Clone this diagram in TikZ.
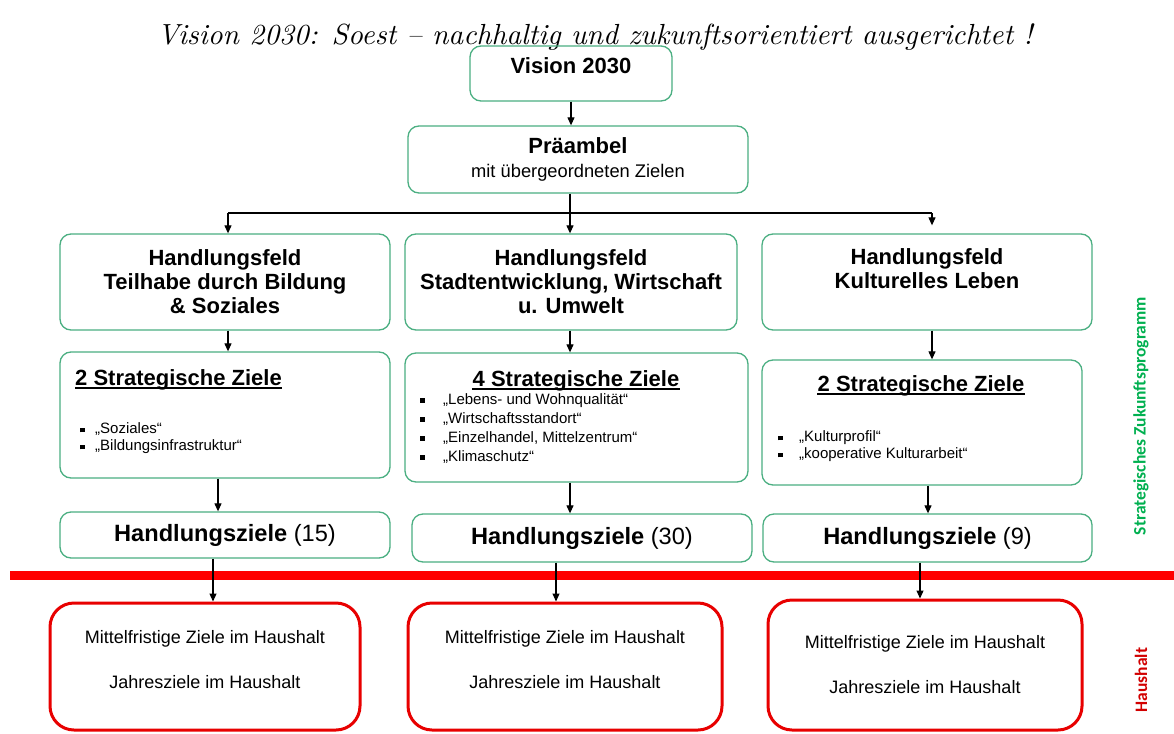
\documentclass[tikz,border=0pt]{standalone}
\usepackage{fontspec}
\usepackage{graphicx}
\setsansfont{Liberation Sans}
\newfontfamily\seitenfont{Carlito}
\usetikzlibrary{arrows.meta,positioning}
\definecolor{rahmengruen}{RGB}{75,175,130}
\definecolor{textgruen}{RGB}{0,176,80}
\definecolor{rahmenrot}{RGB}{232,0,0}
\definecolor{textrot}{RGB}{210,0,0}
% kleines Quadrat als Aufzaehlungszeichen
\newcommand{\qp}[1]{\makebox[#1][l]{\rule[0.2ex]{4.5pt}{4.5pt}}}
\tikzset{
	gruenbox/.style={draw=rahmengruen, line width=1.3pt, rounded corners=11pt, align=center, inner sep=0pt,
		font=\sffamily\bfseries\fontsize{22}{24}\selectfont},
	zielbox/.style={gruenbox, font=\sffamily\fontsize{23.6}{26}\selectfont},
	rotbox/.style={draw=rahmenrot, line width=3pt, rounded corners=24pt, align=center, inner sep=0pt,
		font=\sffamily\fontsize{18}{45}\selectfont},
	kopf/.style={inner sep=0pt, font=\sffamily\bfseries\fontsize{22}{24}\selectfont},
	strich/.style={line width=1.8pt},
	punkte/.style={inner sep=0pt, align=left, font=\sffamily\fontsize{15}{17}\selectfont},
	seite/.style={inner sep=0pt, rotate=90, font=\seitenfont\bfseries\fontsize{17.5}{20}\selectfont},
	pfeil/.style={-{Triangle[length=8pt,width=7pt]}, line width=1.1pt}
}
\begin{document}
\begin{tikzpicture}[x=1pt,y=-1pt]
\useasboundingbox[fill=white] (0,0) rectangle (1174,733);
% Titel
\node[inner sep=0pt] (titel) at (595,37) {\resizebox{875pt}{!}{\itshape Vision 2030: Soest – nachhaltig und zukunftsorientiert ausgerichtet !}};
% obere Ebene
\node[gruenbox, minimum width=202, minimum height=55, text depth=15pt] (vision) at (571,73.5) {Vision 2030};
\node[gruenbox, minimum width=340, minimum height=67, font=\sffamily\fontsize{18.3}{23.5}\selectfont] (praeambel) at (578,159.5)
	{{\bfseries\fontsize{22}{23.5}\selectfont Präambel}\\mit übergeordneten Zielen};
% Handlungsfelder
\node[gruenbox, minimum width=330, minimum height=96] (hf1) at (225,282) {Handlungsfeld\\Teilhabe durch Bildung\\\& Soziales};
\node[gruenbox, minimum width=332, minimum height=96] (hf2) at (571,282) {Handlungsfeld\\Stadtentwicklung, Wirtschaft\\u. Umwelt};
\node[gruenbox, minimum width=330, minimum height=96, text depth=27pt] (hf3) at (927,282) {Handlungsfeld\\Kulturelles Leben};
% strategische Ziele
\node[gruenbox, minimum width=330, minimum height=126] (sz1) at (225,415) {};
\node[gruenbox, minimum width=343, minimum height=129] (sz2) at (576.5,417.5) {};
\node[gruenbox, minimum width=320, minimum height=125] (sz3) at (922,422.5) {};
\node[kopf, anchor=base west] (kopf1) at (75,385) {2 Strategische Ziele};
\node[kopf, anchor=base] (kopf2) at (576,386) {4 Strategische Ziele};
\node[kopf, anchor=base] (kopf3) at (921,391) {2 Strategische Ziele};
\draw[strich] ([yshift=-3pt]kopf1.base west) -- ([yshift=-3pt]kopf1.base east);
\draw[strich] ([yshift=-3pt]kopf2.base west) -- ([yshift=-3pt]kopf2.base east);
\draw[strich] ([yshift=-3pt]kopf3.base west) -- ([yshift=-3pt]kopf3.base east);
\node[punkte, anchor=west] (liste1) at (80,438.5) {\qp{15pt}„Soziales“\\\qp{15pt}„Bildungsinfrastruktur“};
\node[punkte, anchor=west, font=\sffamily\fontsize{15}{19}\selectfont] (liste2) at (420,428.5)
	{\qp{23pt}„Lebens- und Wohnqualität“\\\qp{23pt}„Wirtschaftsstandort“\\\qp{23pt}„Einzelhandel, Mittelzentrum“\\\qp{23pt}„Klimaschutz“};
\node[punkte, anchor=west] (liste3) at (778,446.5) {\qp{21pt}„Kulturprofil“\\\qp{21pt}„kooperative Kulturarbeit“};
% Handlungsziele
\node[zielbox, minimum width=330, minimum height=46] (hz1) at (225,535) {\textbf{Handlungsziele} (15)};
\node[zielbox, minimum width=340, minimum height=48] (hz2) at (582,538) {\textbf{Handlungsziele} (30)};
\node[zielbox, minimum width=329, minimum height=48] (hz3) at (927.5,538) {\textbf{Handlungsziele} (9)};
% Trennlinie
\draw[red, line width=9pt] (10,575) -- (1174,575);
% Haushalt
\node[rotbox, minimum width=310, minimum height=127, text depth=14pt] (hh1) at (205,666.5) {Mittelfristige Ziele im Haushalt\\Jahresziele im Haushalt};
\node[rotbox, minimum width=314, minimum height=127, text depth=15pt] (hh2) at (565,666.5) {Mittelfristige Ziele im Haushalt\\Jahresziele im Haushalt};
\node[rotbox, minimum width=314, minimum height=130] (hh3) at (925,665) {Mittelfristige Ziele im Haushalt\\Jahresziele im Haushalt};
% Seitenbeschriftung
\node[seite, text=textgruen] (sprog) at (1141,416) {Strategisches Zukunftsprogramm};
\node[seite, text=textrot] (shaus) at (1141,680) {Haushalt};
% Verbindungen
\coordinate (knoten) at (570,213);
\coordinate (ast1) at (228,213);
\coordinate (ast3) at (932,213);
\coordinate (s1) at (218,0);
\coordinate (s3) at (928,0);
\coordinate (h1) at (213,0);
\coordinate (h2) at (556,0);
\coordinate (h3) at (920,0);
\draw[pfeil] (vision.south) -- (vision.south |- praeambel.north);
\draw[line width=1.1pt] (praeambel.south -| knoten) -- (knoten);
\draw[line width=1.1pt] (ast1) -- (ast3);
\draw[pfeil] (ast1) -- (ast1 |- hf1.north);
\draw[pfeil] (knoten) -- (knoten |- hf2.north);
\draw[pfeil, shorten >=8pt] (ast3) -- (ast3 |- hf3.north);
\draw[pfeil] (hf1.south -| ast1) -- (sz1.north -| ast1);
\draw[pfeil] (hf2.south -| knoten) -- (sz2.north -| knoten);
\draw[pfeil] (hf3.south -| ast3) -- (sz3.north -| ast3);
\draw[pfeil] (sz1.south -| s1) -- (hz1.north -| s1);
\draw[pfeil] (sz2.south -| knoten) -- (hz2.north -| knoten);
\draw[pfeil] (sz3.south -| s3) -- (hz3.north -| s3);
\draw[pfeil] (hz1.south -| h1) -- (hh1.north -| h1);
\draw[pfeil] (hz2.south -| h2) -- (hh2.north -| h2);
\draw[pfeil] (hz3.south -| h3) -- (hh3.north -| h3);
\end{tikzpicture}
\end{document}
